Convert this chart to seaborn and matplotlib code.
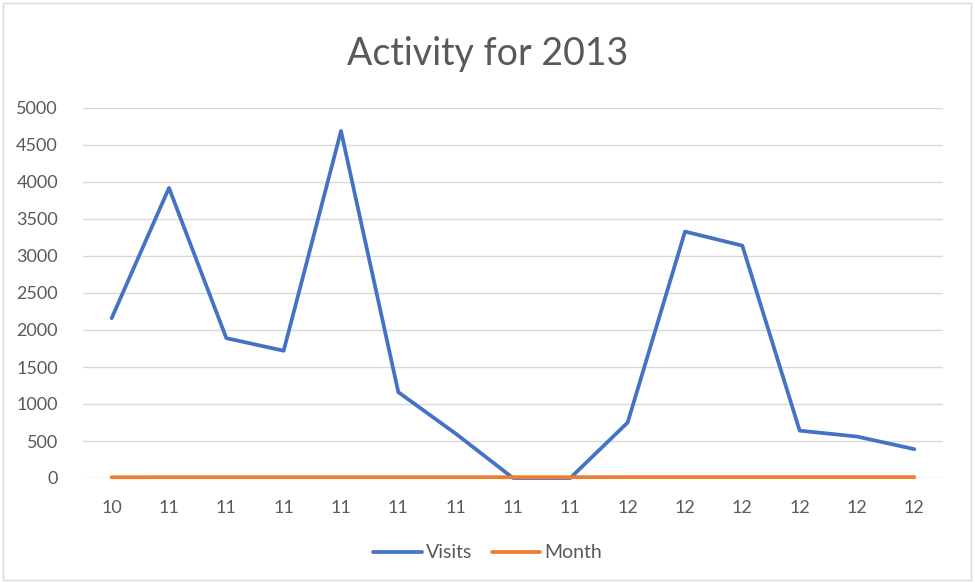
import pandas as pd
import matplotlib.pyplot as plt
import seaborn as sns

# values
month_labels = ['10', '11', '11', '11', '11', '11', '11', '11', '11',
                '12', '12', '12', '12', '12', '12']
visits = [2160, 3920, 1890, 1720, 4690, 1160, 600, 0, 0,
          750, 3330, 3140, 640, 560, 390]
month = [10, 11, 11, 11, 11, 11, 11, 11, 11, 12, 12, 12, 12, 12, 12]

pos = list(range(len(month_labels)))
df = pd.DataFrame({
    'pos': pos * 2,
    'value': visits + month,
    'series': ['Visits'] * len(pos) + ['Month'] * len(pos),
})

sns.set_style('white')
plt.rcParams['font.family'] = ['Lato', 'DejaVu Sans']

fig = plt.figure(figsize=(9.75, 5.83), dpi=100)
ax = fig.add_axes([83 / 975, 1 - 478 / 583, 860 / 975, 370 / 583])

sns.lineplot(data=df, x='pos', y='value', hue='series',
             palette={'Visits': '#4472c4', 'Month': '#ed7d31'},
             linewidth=2.7, ax=ax, clip_on=False, legend=False)
# Month is drawn over Visits, as in the original
ax.lines[0].set_zorder(3)
ax.lines[1].set_zorder(4)

ax.set_xlim(-0.5, len(pos) - 0.5)
ax.set_ylim(0, 5000)
ax.set_yticks(range(0, 5001, 500))
ax.set_xticks(pos)
ax.set_xticklabels(month_labels)
ax.tick_params(axis='both', length=0, labelsize=13, colors='#595959')
ax.tick_params(axis='x', pad=16)
ax.tick_params(axis='y', pad=18)
ax.yaxis.grid(True, color='#d9d9d9', linewidth=1)
ax.set_axisbelow(True)
for s in ax.spines.values():
    s.set_visible(False)
ax.set_xlabel('')
ax.set_ylabel('')

fig.text(0.5, 1 - 54 / 583, 'Activity for 2013', ha='center', va='center',
         fontsize=27, color='#595959')

handles = [plt.Line2D([], [], color='#4472c4', linewidth=2.7),
           plt.Line2D([], [], color='#ed7d31', linewidth=2.7)]
fig.legend(handles, ['Visits', 'Month'], loc='center',
           bbox_to_anchor=(0.5, 1 - 553 / 583), ncol=2, frameon=False,
           fontsize=14, labelcolor='#595959', handlelength=2.5,
           handletextpad=0.2, columnspacing=1.0)

fig.patches.append(plt.Rectangle((3 / 975, 3 / 583), 968 / 975, 577 / 583,
                                 transform=fig.transFigure, fill=False,
                                 edgecolor='#d9d9d9', linewidth=1))

fig.savefig('out.png', dpi=100)
